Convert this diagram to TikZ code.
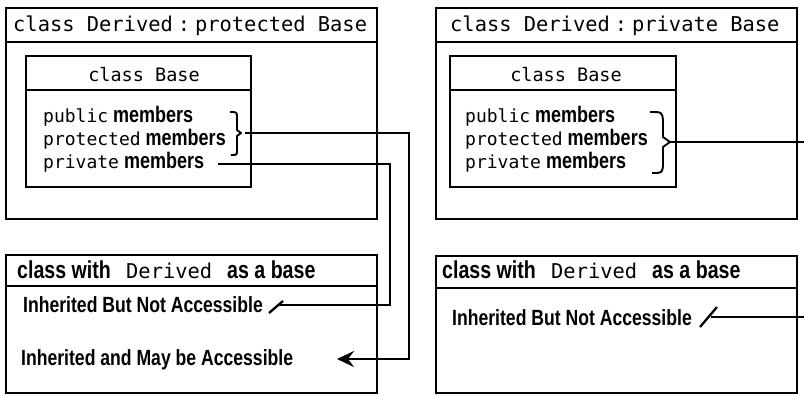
\documentclass[tikz,border=0pt]{standalone}
\usepackage{fontspec}
\setmainfont{Liberation Sans}
\newfontfamily\mymonof{DejaVu Sans Mono}
\newfontfamily\mycondf[FakeStretch=0.8]{Liberation Sans}
\usetikzlibrary{arrows.meta}
\newcommand\mymono[2]{{\fontsize{#1}{#1}\mymonof #2}}
\newcommand\mybold[2]{{\fontsize{#1}{#1}\mycondf\bfseries #2}}
\begin{document}
\begin{tikzpicture}[x=1pt,y=-1pt,
  box/.style={line width=2.8pt},
  conn/.style={line width=2.3pt},
  bracestyle/.style={line width=1.9pt,line join=round},
  txt/.style={inner sep=0pt,anchor=base west},
  ctxt/.style={inner sep=0pt,anchor=base}]
\useasboundingbox (0,0) rectangle (804,394);
\fill[white] (0,0) rectangle (804,394);
% ---------- left top ----------
\draw[box] (6,8) rectangle (377,219);
\draw[box] (6,42) -- (377,42);
\draw[box] (26,56) rectangle (251,187);
\draw[box] (26,90) -- (251,90);
\node[txt] (ltitle) at (13,31) {\mymono{20.4}{class Derived\kern5pt:\kern5pt protected Base}};
\node[ctxt] (lbase) at (144,81) {\mymono{18.5}{class Base}};
\node[txt] (lpub) at (43,122) {\mymono{18}{public}\kern5pt\mybold{22.5}{members}};
\node[txt] (lpro) at (43,145) {\mymono{18}{protected}\kern5pt\mybold{22.5}{members}};
\node[txt] (lpri) at (43,168) {\mymono{18}{private}\kern5pt\mybold{22.5}{members}};
\draw[bracestyle] (230,112) .. controls (237,112) .. (237,118) -- (237,130) -- (241,133) -- (237,136) -- (237,150) .. controls (237,155) .. (231,155);
% ---------- right top ----------
\draw[box] (436,8) rectangle (797,219);
\draw[box] (436,42) -- (797,42);
\draw[box] (450,56) rectangle (676,187);
\draw[box] (450,90) -- (676,90);
\node[txt] (rtitle) at (450,31) {\mymono{20.4}{class Derived\kern5pt:\kern5pt private Base}};
\node[ctxt] (rbase) at (566,81) {\mymono{18.5}{class Base}};
\node[txt] (rpub) at (465,122) {\mymono{18}{public}\kern5pt\mybold{22.5}{members}};
\node[txt] (rpro) at (465,145) {\mymono{18}{protected}\kern5pt\mybold{22.5}{members}};
\node[txt] (rpri) at (465,168) {\mymono{18}{private}\kern5pt\mybold{22.5}{members}};
\draw[bracestyle] (650,112) .. controls (662,112) .. (663,120) -- (663,137) -- (670,142) -- (663,147) -- (663,166) .. controls (662,173) .. (652,173);
% ---------- left bottom ----------
\draw[box] (6,255) rectangle (377,393);
\draw[box] (6,286) -- (377,286);
\node[txt] (lcw) at (17,278) {\mybold{24.5}{class with}};
\node[txt] (lder) at (126,278) {\mymono{20.4}{Derived}};
\node[txt] (lab) at (227,278) {\mybold{24.5}{as a base}};
\node[txt] (linh) at (23,312) {\mybold{22}{Inherited But Not Accessible}};
\node[txt] (lmay) at (21,365) {\mybold{22}{Inherited and May be Accessible}};
% ---------- right bottom ----------
\draw[box] (436,256) rectangle (797,393);
\draw[box] (436,288) -- (797,288);
\node[txt] (rcw) at (442,278) {\mybold{24.5}{class with}};
\node[txt] (rder) at (551,278) {\mymono{20.4}{Derived}};
\node[txt] (rab) at (652,278) {\mybold{24.5}{as a base}};
\node[txt] (rinh) at (452,325) {\mybold{22}{Inherited But Not Accessible}};
% ---------- connectors ----------
\coordinate (lbr) at (245,133);
\coordinate (lturnA) at (409,133);
\coordinate (lmayend) at (337,359);
\draw[conn,-{Stealth[length=17pt,width=16pt,inset=6pt]}] (lbr) -- (lturnA) |- (lmayend);
\coordinate (lpristart) at (218,164);
\coordinate (lturnB) at (390,164);
\coordinate (lslashmid) at (277,305);
\draw[conn] (lpristart) -- (lturnB) |- (lslashmid);
\coordinate (lslashA) at (269,313);
\coordinate (lslashB) at (283,301);
\draw[conn] (lslashA) -- (lslashB);
\coordinate (rbr) at (670,142);
\coordinate (redgeA) at (804,142);
\draw[conn] (rbr) -- (redgeA);
\coordinate (rslashmid) at (711,317);
\coordinate (redgeB) at (804,317);
\draw[conn] (rslashmid) -- (redgeB);
\coordinate (rslashA) at (700,327);
\coordinate (rslashB) at (717,307);
\draw[conn] (rslashA) -- (rslashB);
\end{tikzpicture}
\end{document}
